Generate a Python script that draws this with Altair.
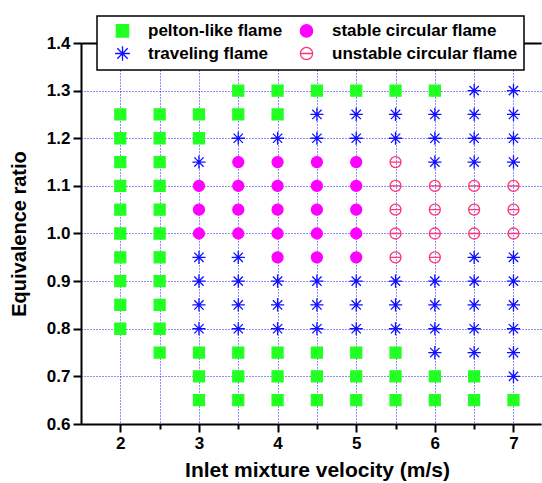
import altair as alt
import pandas as pd

# Inlet velocities (m/s) tested in each row
velocity = [2.0, 2.5, 3.0, 3.5, 4.0, 4.5, 5.0, 5.5, 6.0, 6.5, 7.0]

# Equivalence ratios, top row first
phi = [1.30, 1.25, 1.20, 1.15, 1.10, 1.05, 1.00, 0.95, 0.90, 0.85, 0.80, 0.75, 0.70, 0.65]

# Observed regime per (phi, velocity):
# P = pelton-like, S = stable circular, T = traveling, U = unstable circular, . = not run
regime_rows = [
    "...PPPPPPTT",
    "PPPPPTTTTTT",
    "PPPTTTTTTTT",
    "PPTSSSSUTTT",
    "PPSSSSSUUUU",
    "PPSSSSSUUUU",
    "PPSSSSSUUUU",
    "PPTTSSSUUTT",
    "PPTTTTTTTTT",
    "PPTTTTTTTTT",
    "PPTTTTTTTTT",
    ".PPPPPPPTTT",
    "..PPPPPPPPT",
    "..PPPPPPPPP",
]

regime_names = {
    "P": "pelton-like flame",
    "S": "stable circular flame",
    "T": "traveling flame",
    "U": "unstable circular flame",
}
legend_order = ["pelton-like flame", "stable circular flame",
                "traveling flame", "unstable circular flame"]

records = []
for p, row in zip(phi, regime_rows):
    for v, code in zip(velocity, row):
        if code in regime_names:
            records.append({"v": v, "phi": p, "regime": regime_names[code]})
df = pd.DataFrame(records)

# Symbol paths in the unit box
star_path = ("M0,-1.2L0,1.2M-1.2,0L1.2,0M-0.85,-0.85L0.85,0.85M-0.85,0.85L0.85,-0.85")
theta_path = ("M-1,0A1,1 0 1,0 1,0A1,1 0 1,0 -1,0Z M-1,0L1,0")

FONT = "Liberation Sans"
W, H = 460, 381

x_ticks = [2.0, 2.5, 3.0, 3.5, 4.0, 4.5, 5.0, 5.5, 6.0, 6.5, 7.0]
y_ticks = [round(0.6 + 0.05 * i, 2) for i in range(17)]
is_major_x = "abs(datum.value - round(datum.value)) < 0.01"
is_major_y = "abs(datum.value * 10 - round(datum.value * 10)) < 0.01"

x_scale = alt.Scale(domain=[1.5, 7.35], nice=False, zero=False)
y_scale = alt.Scale(domain=[0.6, 1.4], nice=False, zero=False)

points = alt.Chart(df).mark_point(opacity=1, strokeWidth=1.3, size=120).encode(
    x=alt.X("v:Q", scale=x_scale, axis=alt.Axis(
        values=x_ticks,
        title="Inlet mixture velocity (m/s)",
        labelExpr=f"{is_major_x} ? format(datum.value, 'd') : ''",
        tickSize={"condition": {"test": is_major_x, "value": 8}, "value": 5},
        grid=True, gridColor="#1a1aff", gridDash=[1, 2], gridWidth=1,
        domainColor="black", domainWidth=2, tickColor="black", tickWidth=2,
        labelFont=FONT, labelFontSize=17, labelFontWeight="bold", labelColor="black",
        labelPadding=3, labelFlush=False,
        titleFont=FONT, titleFontSize=21, titleFontWeight="bold", titleColor="black",
        titlePadding=8, titleX=236, titleAnchor="middle",
    )),
    y=alt.Y("phi:Q", scale=y_scale, axis=alt.Axis(
        values=y_ticks,
        title="Equivalence ratio",
        labelExpr=f"{is_major_y} ? format(datum.value, '.1f') : ''",
        tickSize={"condition": {"test": is_major_y, "value": 8}, "value": 5},
        grid=True, gridColor="#1a1aff", gridDash=[1, 2], gridWidth=1,
        domainColor="black", domainWidth=2, tickColor="black", tickWidth=2,
        labelFont=FONT, labelFontSize=17, labelFontWeight="bold", labelColor="black",
        labelPadding=3, labelFlush=False,
        titleFont=FONT, titleFontSize=20, titleFontWeight="bold", titleColor="black",
        titlePadding=17,
    )),
    shape=alt.Shape("regime:N", title=None, scale=alt.Scale(
        domain=legend_order, range=["square", "circle", star_path, theta_path])),
    fill=alt.Fill("regime:N", title=None, scale=alt.Scale(
        domain=legend_order, range=["#22ff22", "#ff00ff", "transparent", "transparent"])),
    stroke=alt.Stroke("regime:N", title=None, scale=alt.Scale(
        domain=legend_order, range=["#22ff22", "#ff00ff", "#1010ff", "#ff3377"])),
)

# Top frame line drawn as a blank axis on the opposite side
top_frame = alt.Chart(df).mark_point(opacity=0).encode(
    x=alt.X("v:Q", scale=x_scale, axis=alt.Axis(
        orient="top", labels=False, ticks=False, grid=False, title=None,
        domainColor="black", domainWidth=2)),
    y=alt.Y("phi:Q", scale=y_scale),
)

chart = alt.layer(top_frame, points).resolve_axis(x="independent").properties(
    width=W, height=H,
    autosize=alt.AutoSizeParams(type="none"),
    padding={"left": 81, "top": 43, "right": 1, "bottom": 59},
    background="white",
).configure_view(stroke=None).configure_legend(
    orient="none", legendX=16, legendY=-27,
    columns=2, direction="horizontal",
    strokeColor="black", fillColor="white", strokeWidth=1.5,
    padding=6, symbolOffset=11, columnPadding=4, rowPadding=3,
    labelFont=FONT, labelFontSize=17, labelFontWeight="bold", labelColor="black",
    labelOffset=17, symbolSize=150, symbolStrokeWidth=1.3, labelLimit=300,
)

chart.save("out.html", embed_options={"renderer": "svg", "actions": False})
